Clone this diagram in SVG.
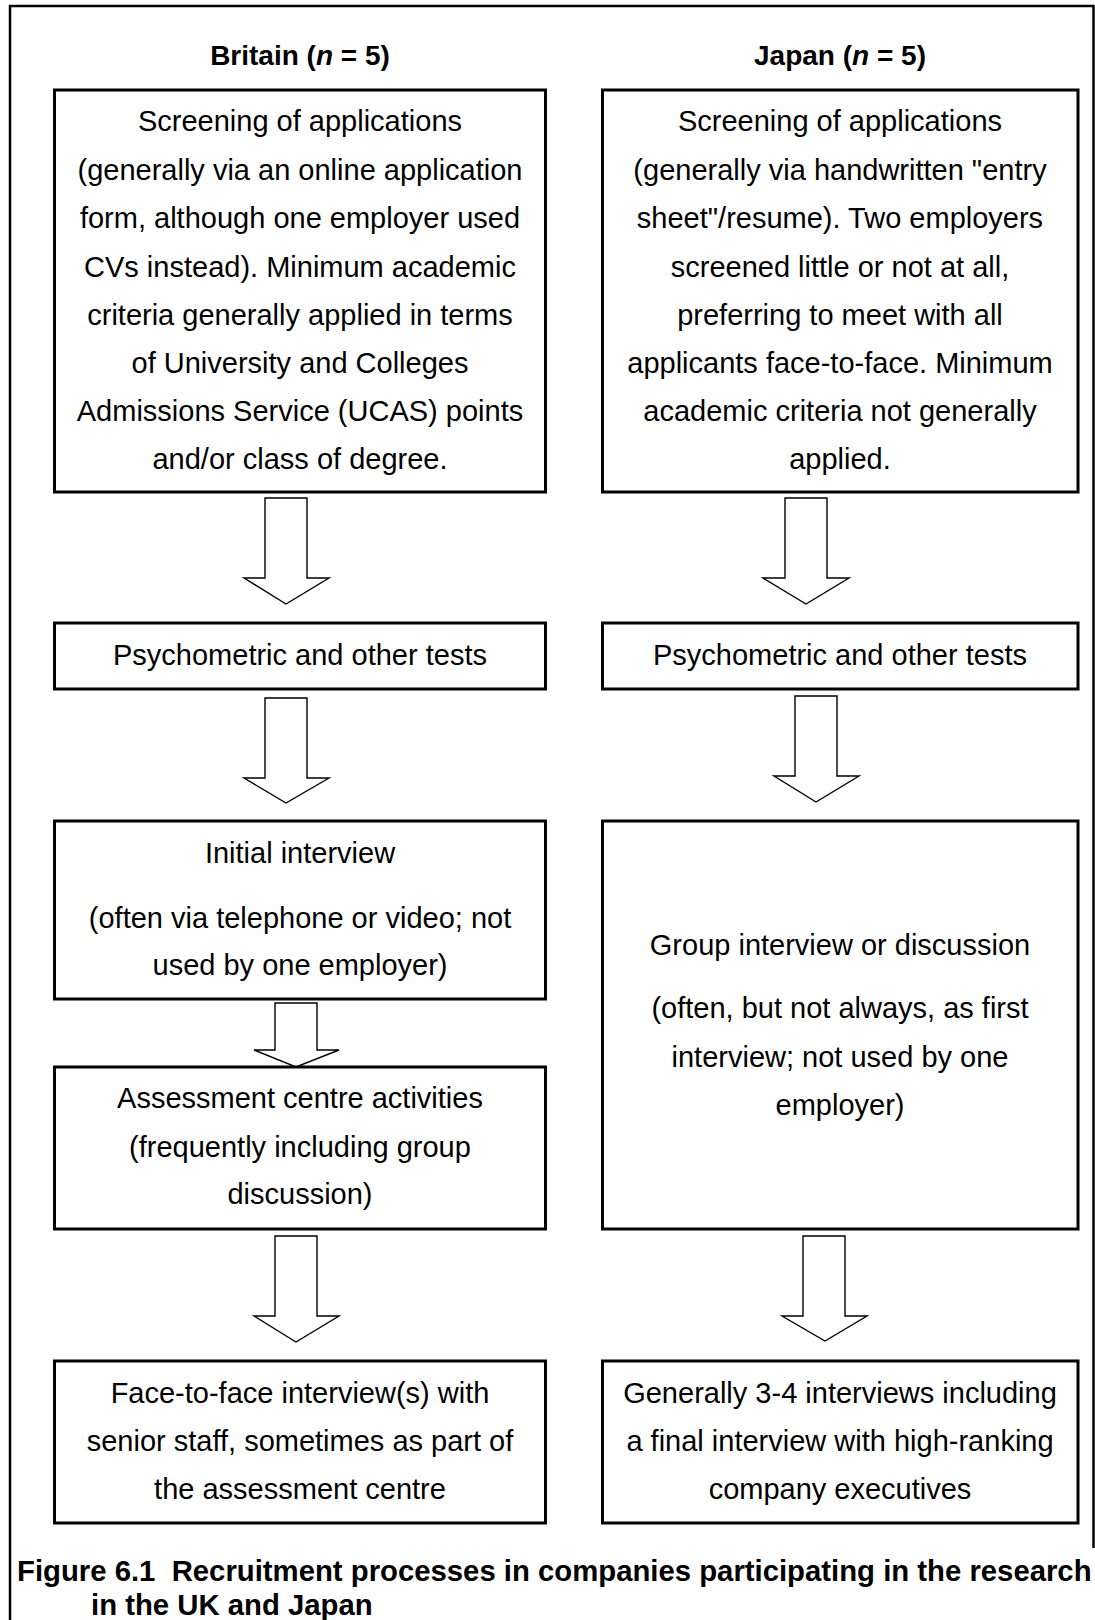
<svg xmlns="http://www.w3.org/2000/svg" width="1095" height="1620" viewBox="0 0 1095 1620">
<style>
text{font-family:"Liberation Sans",Arial,sans-serif;fill:#000}
.t{font-size:29px;text-anchor:middle}
.h{font-size:28px;font-weight:bold;text-anchor:middle}
.cap{font-size:29.3px;font-weight:bold;white-space:pre}
.box{fill:#fff;stroke:#000;stroke-width:3}
.arr{fill:#fff;stroke:#000;stroke-width:1.4;stroke-linejoin:miter}
.frame{fill:none;stroke:#000;stroke-width:2.5}
</style>
<rect width="1095" height="1620" fill="#fff"/>
<path class="frame" d="M10,1620 V6 H1093.5 V1548"/>
<g id="headers">
<text class="h" x="300" y="65">Britain (<tspan font-style="italic">n</tspan> = 5)</text>
<text class="h" x="840" y="65">Japan (<tspan font-style="italic">n</tspan> = 5)</text>
</g>
<g id="connectors">
<polygon class="arr" points="265,498 307,498 307,578 329,578 286,604 244,578 265,578"/>
<polygon class="arr" points="265,698 307,698 307,778 329,778 286,803 244,778 265,778"/>
<polygon class="arr" points="275,1003 317,1003 317,1050 339,1050 296,1067 254,1050 275,1050"/>
<polygon class="arr" points="275,1236 317,1236 317,1316 339,1316 296,1342 254,1316 275,1316"/>
<polygon class="arr" points="785,498 827,498 827,578 849,578 806,604 763,578 785,578"/>
<polygon class="arr" points="795,696 837,696 837,776 859,776 816,802 774,776 795,776"/>
<polygon class="arr" points="803,1236 845,1236 845,1316 867,1316 825,1341 782,1316 803,1316"/>
</g>
<g id="uk-screening">
<rect class="box" x="54.5" y="90" width="491" height="402"/>
<text class="t" x="300" y="131">Screening of applications</text>
<text class="t" x="300" y="179.5">(generally via an online application</text>
<text class="t" x="300" y="228">form, although one employer used</text>
<text class="t" x="300" y="276.5">CVs instead). Minimum academic</text>
<text class="t" x="300" y="325">criteria generally applied in terms</text>
<text class="t" x="300" y="373">of University and Colleges</text>
<text class="t" x="300" y="421">Admissions Service (UCAS) points</text>
<text class="t" x="300" y="469">and/or class of degree.</text>
</g>
<g id="jp-screening">
<rect class="box" x="602.5" y="90" width="475.5" height="402"/>
<text class="t" x="840" y="131">Screening of applications</text>
<text class="t" x="840" y="179.5">(generally via handwritten "entry</text>
<text class="t" x="840" y="228">sheet"/resume). Two employers</text>
<text class="t" x="840" y="276.5">screened little or not at all,</text>
<text class="t" x="840" y="325">preferring to meet with all</text>
<text class="t" x="840" y="373">applicants face-to-face. Minimum</text>
<text class="t" x="840" y="421">academic criteria not generally</text>
<text class="t" x="840" y="469">applied.</text>
</g>
<g id="uk-tests">
<rect class="box" x="54.5" y="623" width="491" height="66"/>
<text class="t" x="300" y="665">Psychometric and other tests</text>
</g>
<g id="jp-tests">
<rect class="box" x="602.5" y="623" width="475.5" height="66"/>
<text class="t" x="840" y="665">Psychometric and other tests</text>
</g>
<g id="uk-initial">
<rect class="box" x="54.5" y="821" width="491" height="178"/>
<text class="t" x="300" y="863">Initial interview</text>
<text class="t" x="300" y="928">(often via telephone or video; not</text>
<text class="t" x="300" y="975">used by one employer)</text>
</g>
<g id="uk-assessment">
<rect class="box" x="54.5" y="1067" width="491" height="162"/>
<text class="t" x="300" y="1108">Assessment centre activities</text>
<text class="t" x="300" y="1156.5">(frequently including group</text>
<text class="t" x="300" y="1204">discussion)</text>
</g>
<g id="jp-group">
<rect class="box" x="602.5" y="821" width="475.5" height="408"/>
<text class="t" x="840" y="955">Group interview or discussion</text>
<text class="t" x="840" y="1018">(often, but not always, as first</text>
<text class="t" x="840" y="1067">interview; not used by one</text>
<text class="t" x="840" y="1115">employer)</text>
</g>
<g id="uk-final">
<rect class="box" x="54.5" y="1361" width="491" height="162"/>
<text class="t" x="300" y="1403">Face-to-face interview(s) with</text>
<text class="t" x="300" y="1451">senior staff, sometimes as part of</text>
<text class="t" x="300" y="1499">the assessment centre</text>
</g>
<g id="jp-final">
<rect class="box" x="602.5" y="1361" width="475.5" height="162"/>
<text class="t" x="840" y="1403">Generally 3-4 interviews including</text>
<text class="t" x="840" y="1451">a final interview with high-ranking</text>
<text class="t" x="840" y="1499">company executives</text>
</g>
<g id="caption">
<text class="cap" x="17" y="1581">Figure 6.1  Recruitment processes in companies participating in the research</text>
<text class="cap" x="91" y="1615">in the UK and Japan</text>
</g>
</svg>
